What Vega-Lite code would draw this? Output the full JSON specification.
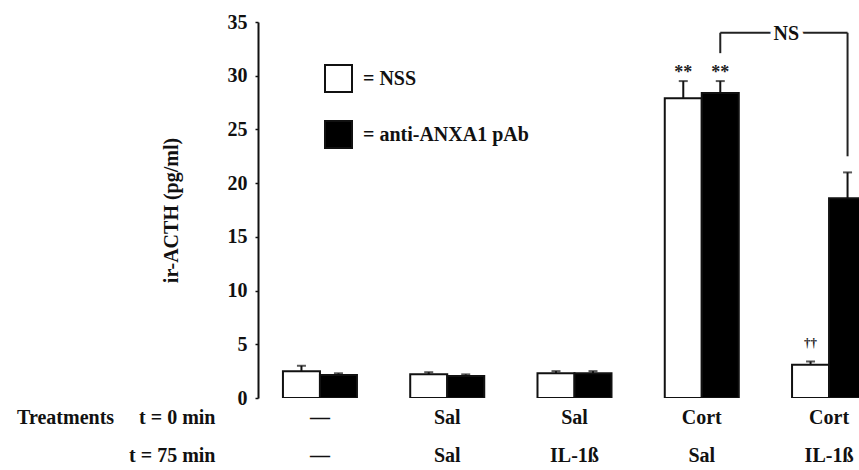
{
  "$schema": "https://vega.github.io/schema/vega-lite/v6.json",
  "autosize": "none",
  "width": 601,
  "height": 376,
  "padding": {"left": 258, "top": 22, "right": 0, "bottom": 72},
  "background": "white",
  "datasets": {
    "bars": [
      {"group": "—|—", "series": "NSS", "value": 2.5, "err": 3.0, "sig": ""},
      {"group": "—|—", "series": "anti-ANXA1 pAb", "value": 2.15, "err": 2.3, "sig": ""},
      {"group": "Sal|Sal", "series": "NSS", "value": 2.2, "err": 2.4, "sig": ""},
      {"group": "Sal|Sal", "series": "anti-ANXA1 pAb", "value": 2.05, "err": 2.2, "sig": ""},
      {"group": "Sal|IL-1ß", "series": "NSS", "value": 2.3, "err": 2.5, "sig": ""},
      {"group": "Sal|IL-1ß", "series": "anti-ANXA1 pAb", "value": 2.3, "err": 2.5, "sig": ""},
      {"group": "Cort|Sal", "series": "NSS", "value": 27.9, "err": 29.5, "sig": "**"},
      {"group": "Cort|Sal", "series": "anti-ANXA1 pAb", "value": 28.4, "err": 29.5, "sig": "**"},
      {"group": "Cort|IL-1ß", "series": "NSS", "value": 3.1, "err": 3.4, "sig": "††"},
      {"group": "Cort|IL-1ß", "series": "anti-ANXA1 pAb", "value": 18.6, "err": 21.0, "sig": ""}
    ],
    "bracketV": [
      {"group": "Cort|Sal", "series": "anti-ANXA1 pAb", "y": 32.1, "y2": 34.0},
      {"group": "Cort|IL-1ß", "series": "anti-ANXA1 pAb", "y": 22.5, "y2": 34.0}
    ],
    "bracketH": [
      {"group": "Cort|Sal", "group2": "Cort|IL-1ß", "series": "anti-ANXA1 pAb", "y": 34.0, "label": "NS"}
    ]
  },
  "encoding": {
    "x": {
      "field": "group",
      "type": "nominal",
      "sort": null,
      "scale": {
        "domain": ["—|—", "Sal|Sal", "Sal|IL-1ß", "Cort|Sal", "Cort|IL-1ß"],
        "range": [0, 633],
        "paddingInner": 0.4185,
        "paddingOuter": 0.196
      },
      "axis": {
        "domain": false,
        "ticks": false,
        "labelAngle": 0,
        "labelExpr": "split(datum.label, '|')",
        "labelFont": "Liberation Serif",
        "labelFontSize": 20,
        "labelFontWeight": "bold",
        "labelColor": "#111",
        "labelPadding": 9,
        "labelLineHeight": 38,
        "labelOverlap": false,
        "title": ["Treatments\u00a0\u00a0\u00a0\u00a0\u00a0t = 0 min", "t = 75 min"],
        "titleFont": "Liberation Serif",
        "titleFontSize": 20,
        "titleFontWeight": "bold",
        "titleColor": "#111",
        "titleAlign": "right",
        "titleBaseline": "alphabetic",
        "titleX": -43,
        "titleY": 25,
        "titleLineHeight": 38
      }
    },
    "xOffset": {
      "field": "series",
      "type": "nominal",
      "sort": null,
      "scale": {"domain": ["NSS", "anti-ANXA1 pAb"], "paddingInner": 0, "paddingOuter": 0}
    }
  },
  "layer": [
    {
      "data": {"name": "bars"},
      "mark": {"type": "bar", "stroke": "#111", "strokeWidth": 2, "clip": true},
      "encoding": {
        "y": {
          "field": "value",
          "type": "quantitative",
          "scale": {"domain": [0, 35], "nice": false, "zero": true},
          "axis": {
            "values": [0, 5, 10, 15, 20, 25, 30, 35],
            "grid": false,
            "domainColor": "#111",
            "domainWidth": 2,
            "tickColor": "#111",
            "tickSize": 3,
            "tickWidth": 1.5,
            "labelPadding": 8,
            "labelFont": "Liberation Serif",
            "labelFontSize": 20,
            "labelFontWeight": "bold",
            "labelColor": "#111",
            "title": "ir-ACTH (pg/ml)",
            "titleFont": "Liberation Serif",
            "titleFontSize": 20,
            "titleFontWeight": "bold",
            "titleColor": "#111",
            "titleX": -77,
            "titleY": 188,
            "titleAngle": -90,
            "titleAlign": "center",
            "titleBaseline": "bottom"
          }
        },
        "fill": {
          "field": "series",
          "type": "nominal",
          "scale": {"domain": ["NSS", "anti-ANXA1 pAb"], "range": ["white", "#000"]},
          "legend": {
            "orient": "none",
            "legendX": 66,
            "legendY": 42,
            "title": null,
            "padding": 0,
            "symbolType": "square",
            "symbolSize": 729,
            "symbolStrokeColor": "#111",
            "symbolStrokeWidth": 2,
            "symbolOpacity": 1,
            "rowPadding": 21,
            "labelOffset": 10,
            "labelExpr": "'= ' + datum.label",
            "labelFont": "Liberation Serif",
            "labelFontSize": 20,
            "labelFontWeight": "bold",
            "labelColor": "#111",
            "labelLimit": 400
          }
        }
      }
    },
    {
      "data": {"name": "bars"},
      "mark": {"type": "rule", "color": "#111", "strokeWidth": 2, "clip": true},
      "encoding": {
        "y": {"field": "value", "type": "quantitative"},
        "y2": {"field": "err"}
      }
    },
    {
      "data": {"name": "bars"},
      "mark": {"type": "tick", "color": "#111", "size": 9, "thickness": 2, "orient": "horizontal", "clip": true},
      "encoding": {
        "y": {"field": "err", "type": "quantitative"}
      }
    },
    {
      "data": {"name": "bars"},
      "transform": [{"filter": "datum.sig == '**'"}],
      "mark": {"type": "text", "font": "Liberation Serif", "fontSize": 18, "fontWeight": "bold", "color": "#222", "baseline": "alphabetic", "dy": -3},
      "encoding": {
        "y": {"field": "err", "type": "quantitative"},
        "text": {"field": "sig"}
      }
    },
    {
      "data": {"name": "bars"},
      "transform": [{"filter": "datum.sig == '††'"}],
      "mark": {"type": "text", "font": "Liberation Serif", "fontSize": 13, "fontWeight": "bold", "color": "#222", "baseline": "alphabetic", "dy": -14},
      "encoding": {
        "y": {"field": "err", "type": "quantitative"},
        "text": {"field": "sig"}
      }
    },
    {
      "data": {"name": "bracketV"},
      "mark": {"type": "rule", "color": "#222", "strokeWidth": 2},
      "encoding": {
        "y": {"field": "y", "type": "quantitative"},
        "y2": {"field": "y2"}
      }
    },
    {
      "data": {"name": "bracketH"},
      "mark": {"type": "rule", "color": "#222", "strokeWidth": 2},
      "encoding": {
        "x2": {"field": "group2", "bandPosition": 0.75},
        "y": {"field": "y", "type": "quantitative"}
      }
    },
    {
      "data": {"name": "bracketH"},
      "mark": {"type": "text", "font": "Liberation Serif", "fontSize": 20, "fontWeight": "bold", "fill": "white", "stroke": "white", "strokeWidth": 10, "baseline": "alphabetic", "dx": 66, "dy": 7},
      "encoding": {
        "y": {"field": "y", "type": "quantitative"},
        "text": {"field": "label"}
      }
    },
    {
      "data": {"name": "bracketH"},
      "mark": {"type": "text", "font": "Liberation Serif", "fontSize": 20, "fontWeight": "bold", "color": "#111", "baseline": "alphabetic", "dx": 66, "dy": 7},
      "encoding": {
        "y": {"field": "y", "type": "quantitative"},
        "text": {"field": "label"}
      }
    }
  ],
  "config": {
    "view": {"stroke": null}
  }
}
